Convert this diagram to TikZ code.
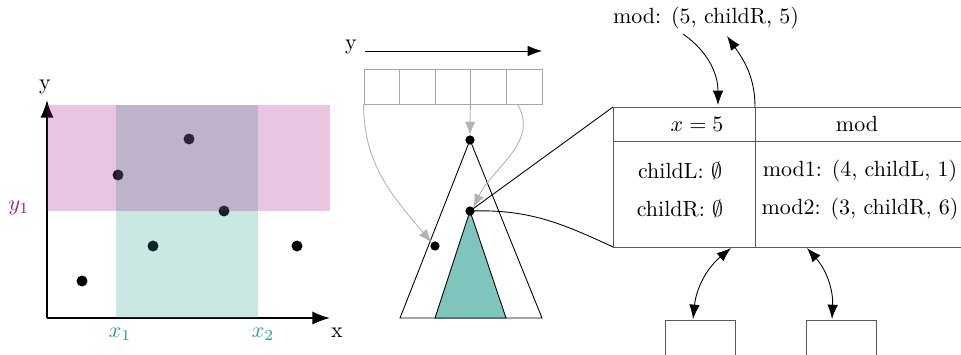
\documentclass[tikz,border=0pt]{standalone}
\usetikzlibrary{arrows.meta}
\definecolor{verde}{RGB}{38,158,145}
\definecolor{rosa}{RGB}{165,22,132}
\begin{document}
\begin{tikzpicture}[
      x=0.455pt, y=0.455pt,
      punto/.style={circle, fill=black, inner sep=0pt, minimum size=5pt},
      puntito/.style={circle, fill=black, inner sep=0pt, minimum size=4.2pt},
      celda/.style={draw=black!35, thin, minimum width=16.2pt, minimum height=15.9pt, inner sep=0pt},
      eje/.style={thick, -{Latex[length=8pt,width=6pt]}},
      flecha/.style={-{Latex[length=6.5pt,width=4.8pt]}},
      doble/.style={{Latex[length=6.5pt,width=4.8pt]}-{Latex[length=6.5pt,width=4.8pt]}},
      gris/.style={draw=black!30, -{Latex[length=6pt,width=4.6pt]}},
      linea/.style={draw=black!65, thin},
      etiqueta/.style={inner sep=1pt}
    ]
    \useasboundingbox (0,0) rectangle (961,354);

    % --- (a) puntos en el plano ---
    \draw[eje] (47,36) -- (47,254);
    \draw[eje] (47,36) -- (330,36);
    \node[etiqueta] (ejeY) at (45,267) {y};
    \node[etiqueta] (ejeX) at (337,21) {x};
    \foreach \nombre/\px/\py in {p1/82/73, p2/118/179, p3/189/215, p4/224/143, p5/153/108, p6/297/108}
      \node[punto] (\nombre) at (\px,\py) {};
    \fill[verde, opacity=0.25] (116,36) rectangle (258,249);
    \fill[rosa, opacity=0.25] (47,143) rectangle (330,249);
    \node[etiqueta, text=rosa] (y1) at (19,146) {$y_1$};
    \node[etiqueta, text=verde] (x1) at (120,20) {$x_1$};
    \node[etiqueta, text=verde] (x2) at (263,20) {$x_2$};

    % --- (b) arreglo y arbol ---
    \node[etiqueta] (etqY) at (351,307) {y};
    \draw[flecha] (365,303) -- (542,303);
    \foreach \i in {1,...,5}
      \node[celda] (c\i) at ({364+35.6*(\i-0.5)},267.5) {};
    \draw[thin] (470,214) -- (400,36) -- (542,36) -- cycle;
    \filldraw[thin, fill=verde!60] (470,143) -- (435,36) -- (506,36) -- cycle;
    \node[puntito] (raiz) at (470,214) {};
    \node[puntito] (nodo) at (470,143) {};
    \node[puntito] (hoja) at (435,108) {};
    \draw[gris] (c4.south west) -- (raiz.north);
    \draw[gris] (c1.south west) to[out=-90, in=130] (hoja.north west);
    \draw[gris] ([xshift=-3pt]c5.south) to[out=-60, in=65] (nodo.north east);

    % --- (c) detalle del nodo ---
    \coordinate (tabNW) at (613,247);
    \coordinate (tabSW) at (613,107);
    \draw[thin] (nodo.center) -- (tabNW);
    \draw[thin] (nodo.center) to[out=2, in=155] (tabSW);
    \draw[linea] (961,247) -- (tabNW) -- (tabSW) -- (961,107);
    \draw[linea] (613,213) -- (961,213);
    \draw[linea] (755,247) -- (755,107);
    \node (hdrX) at (697,230) {$x = 5$};
    \node (hdrMod) at (857,230) {mod};
    \node (hijoL) at (680,183) {childL: $\emptyset$};
    \node (hijoR) at (680,145) {childR: $\emptyset$};
    \node (mod1) at (860,183) {mod1: (4, childL, 1)};
    \node (mod2) at (860,145) {mod2: (3, childR, 6)};
    \node (modIn) at (706,336) {mod: (5, childR, 5)};
    \coordinate (entra) at (718,249);
    \coordinate (sale) at (755,247);
    \draw[flecha] (683,320) to[out=-35, in=90] (entra);
    \draw[flecha] (sale) to[out=90, in=-55] (727,318);

    % --- (d) hijos ---
    \draw[linea] (665,-5) -- (665,34) -- (735,34) -- (735,-5);
    \draw[linea] (806,-5) -- (806,34) -- (876,34) -- (876,-5);
    \coordinate (hijoIzq) at (693,35);
    \coordinate (hijoDer) at (832,35);
    \draw[doble] (731,106) to[bend right=22] (hijoIzq);
    \draw[doble] (807,106) to[bend left=22] (hijoDer);
  \end{tikzpicture}
\end{document}
